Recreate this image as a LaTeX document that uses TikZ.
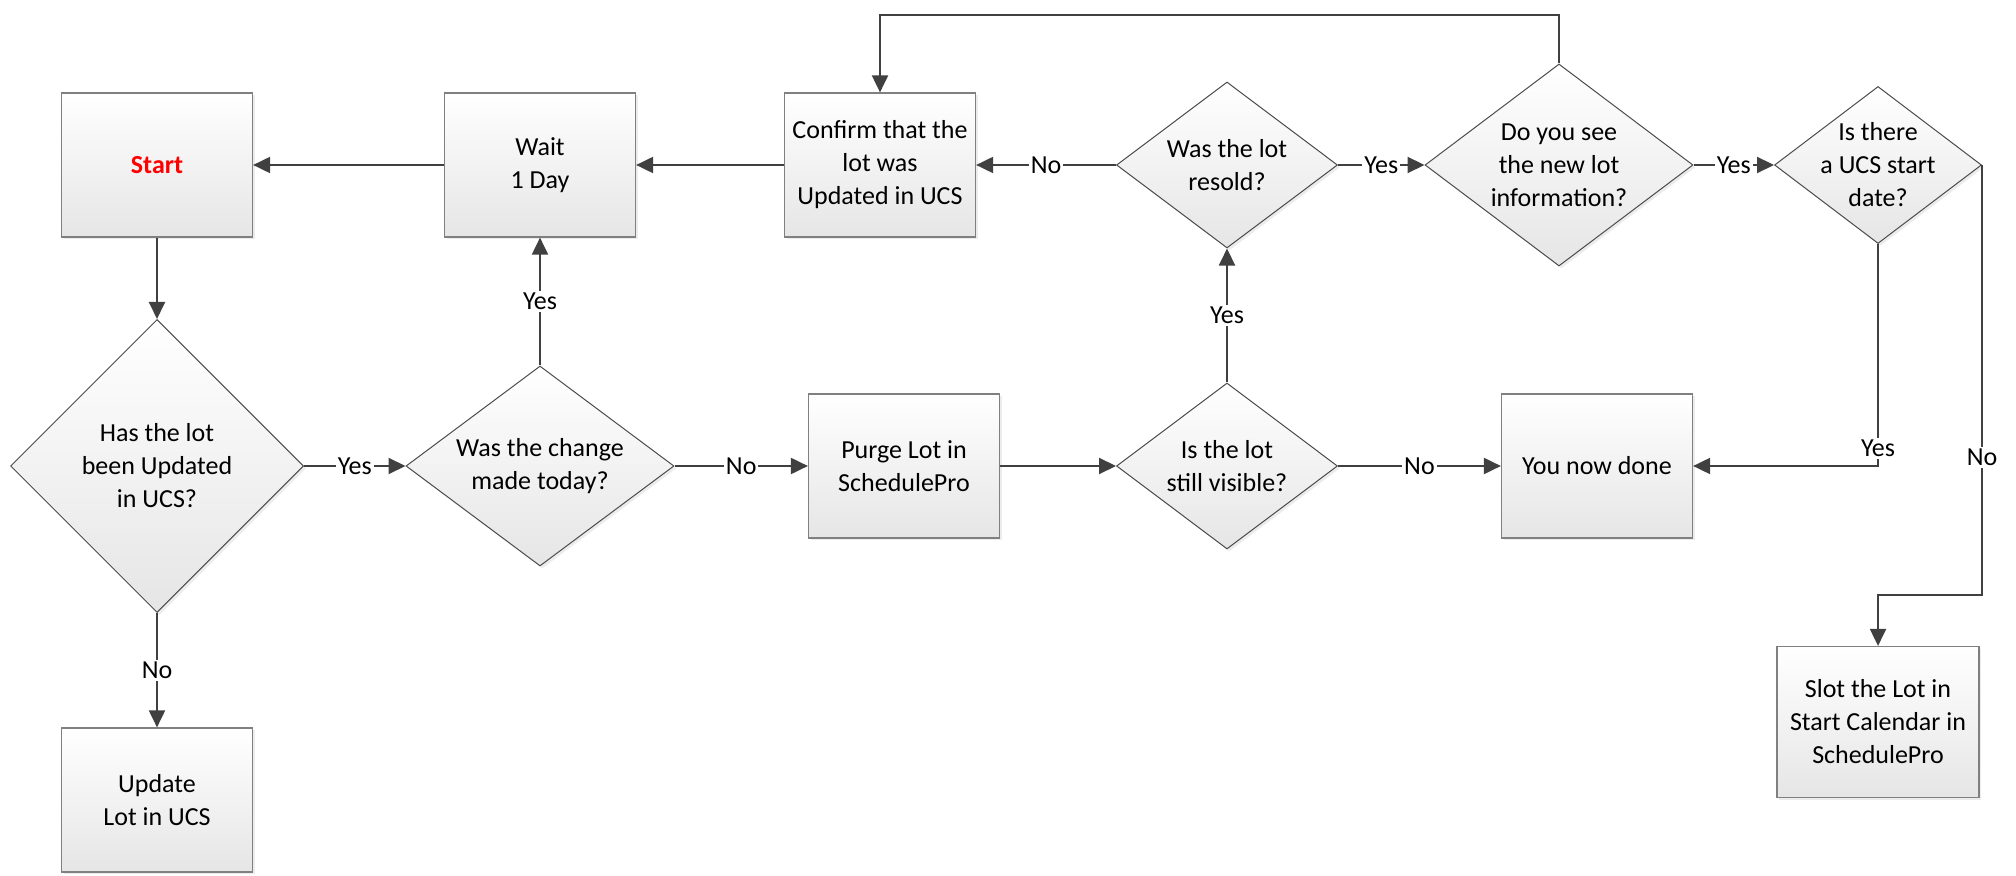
\documentclass[tikz,border=0pt]{standalone}
\usepackage{fontspec}
\setmainfont{Carlito}
\usepackage{tikz}
\usetikzlibrary{arrows.meta,shapes.geometric,positioning,shadows}

\begin{document}
\begin{tikzpicture}[->,>={Triangle[length=8.5pt,width=8pt]},on grid,
                    line width=1pt,font=\fontsize{13}{16.5}\selectfont,
                    every edge/.style={draw=black!75}]
  \tikzstyle{process}=[rectangle,draw=black!50,line width=0.6pt,
    top color=white,bottom color=black!10,minimum width=95.5pt,
    minimum height=72pt,align=center,
    drop shadow={shadow xshift=1.2pt,shadow yshift=-1.2pt,opacity=0.15}]
  \tikzstyle{decision}=[diamond,draw=black!70,line width=0.5pt,inner sep=-25pt,
    top color=white,bottom color=black!10,align=center,
    drop shadow={shadow xshift=1.2pt,shadow yshift=-1.2pt,opacity=0.15}]
  \tikzstyle{flow}=[draw=black!75]
  \tikzstyle{answer}=[fill=white,inner sep=1pt]

  \useasboundingbox (0,0) rectangle (1008pt,-438pt);

  % top row
  \node[process] (Start) at (78.5pt,-82.5pt) {\textcolor{red}{\textbf{Start}}};
  \node[process] (Wait) [right=191.5pt of Start] {Wait\\1 Day};
  \node[process] (Confirm) [right=170pt of Wait] {Confirm that the\\lot was\\Updated in UCS};
  \node[decision,minimum width=110.5pt,minimum height=83pt] (Resold)
    [right=173.5pt of Confirm] {Was the lot\\resold?};
  \node[decision,minimum width=134pt,minimum height=101pt] (SeeInfo)
    [right=166pt of Resold] {Do you see\\the new lot\\information?};
  \node[decision,minimum width=103.5pt,minimum height=78.5pt] (StartDate)
    [right=159.5pt of SeeInfo] {Is there\\a UCS start\\date?};

  % middle row
  \node[decision,minimum width=146.5pt,minimum height=146.5pt] (Updated)
    [below=150.5pt of Start] {Has the lot\\been Updated\\in UCS?};
  \node[decision,minimum width=134pt,minimum height=100pt] (Today)
    [below=150.5pt of Wait] {Was the change\\made today?};
  \node[process] (Purge) [right=182pt of Today] {Purge Lot in\\SchedulePro};
  \node[decision,minimum width=110.5pt,minimum height=83pt] (Visible)
    [below=150.5pt of Resold] {Is the lot\\still visible?};
  \node[process] (Done) [right=185pt of Visible] {You now done};

  % bottom row
  \node[process] (Update) [below=167pt of Updated] {Update\\Lot in UCS};
  \node[process,minimum width=101pt,minimum height=75.5pt] (Slot)
    [below=278.5pt of StartDate] {Slot the Lot in\\Start Calendar in\\SchedulePro};

  \path (Start) edge (Updated)
        (Updated) edge node[answer] {Yes} (Today)
                  edge node[answer] {No} (Update)
        (Today) edge node[answer] {Yes} (Wait)
                edge node[answer] {No} (Purge)
        (Wait) edge (Start)
        (Confirm) edge (Wait)
        (Purge) edge (Visible)
        (Visible) edge node[answer] {No} (Done)
                  edge node[answer] {Yes} (Resold)
        (Resold) edge node[answer] {No} (Confirm)
                 edge node[answer] {Yes} (SeeInfo)
        (SeeInfo) edge node[answer] {Yes} (StartDate);

  \draw[flow] (SeeInfo.north) -- ++(0,24pt) -| (Confirm.north);
  \draw[flow] (StartDate.south) |- node[answer,pos=0.46] {Yes} (Done.east);
  \draw[flow] (StartDate.east) -- node[answer,pos=0.68] {No} ++(0,-215pt)
    -| (Slot.north);
\end{tikzpicture}
\end{document}
